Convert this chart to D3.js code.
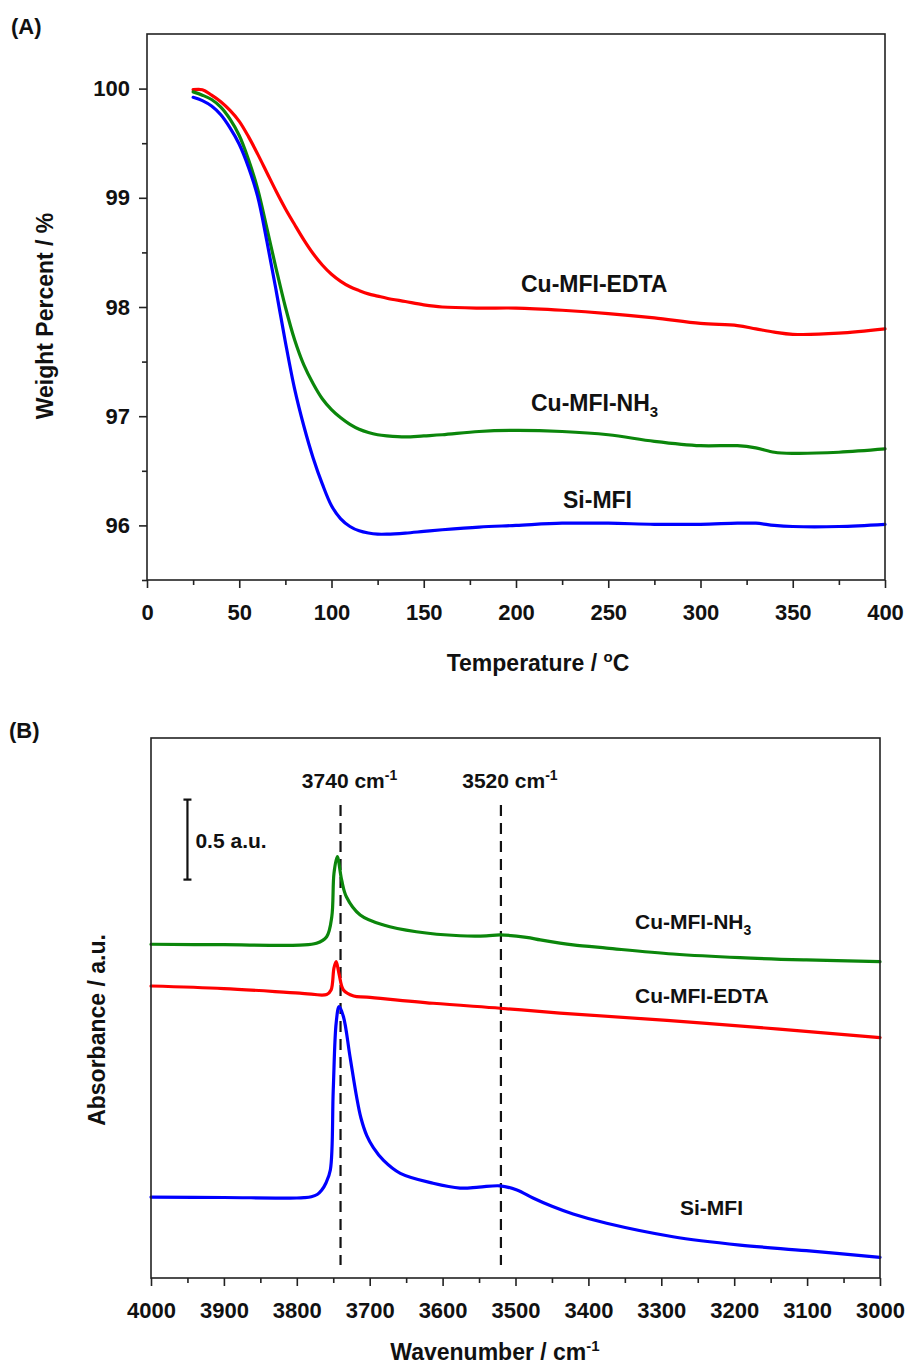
<!DOCTYPE html>
<html>
<head>
<meta charset="utf-8">
<script src="https://cdn.jsdelivr.net/npm/d3@7"></script>
<style>
  html, body { margin: 0; padding: 0; background: #fff; }
  svg { display: block; }
  text { font-family: "Liberation Sans", Arial, Helvetica, sans-serif; font-weight: bold; fill: #111; }
</style>
</head>
<body>
<svg id="chart" width="911" height="1367"></svg>
<script>
// ---------- Panel A: TGA weight loss ----------
const tempA = [25,30,35,40,45,50,55,60,65,70,75,80,85,90,95,100,105,110,115,120,125,130,140,150,160,180,200,225,250,275,300,320,330,340,350,375,400];
const wtEDTA = [99.99,99.99,99.94,99.88,99.80,99.70,99.56,99.40,99.23,99.06,98.90,98.755,98.615,98.49,98.385,98.30,98.235,98.185,98.15,98.12,98.10,98.08,98.05,98.02,98.00,97.99,97.99,97.97,97.94,97.90,97.85,97.83,97.80,97.77,97.75,97.76,97.80];
const wtNH3 = [99.97,99.94,99.90,99.83,99.72,99.57,99.35,99.08,98.72,98.35,98.00,97.70,97.47,97.30,97.16,97.06,96.985,96.925,96.88,96.85,96.83,96.82,96.81,96.82,96.83,96.86,96.87,96.86,96.83,96.77,96.73,96.73,96.71,96.67,96.66,96.67,96.70];
const wtSi = [99.92,99.89,99.84,99.76,99.64,99.49,99.28,99.01,98.60,98.15,97.68,97.25,96.91,96.62,96.38,96.18,96.06,95.99,95.95,95.93,95.92,95.92,95.93,95.945,95.96,95.985,96.00,96.02,96.02,96.01,96.01,96.02,96.02,96.00,95.99,95.99,96.01];
const tickTempMajor = [0,50,100,150,200,250,300,350,400];
const tickWtMajor = [96,97,98,99,100];

// ---------- Panel B: FTIR OH region ----------
const wnSi = [4000,3900,3800,3790,3780,3772,3766,3760,3754,3750,3746,3742,3736,3727,3718,3712,3704,3695,3681,3658,3613,3576,3550,3521,3498,3476,3450,3421,3375,3284,3192,3101,3000];
const absSi = [0.506,0.503,0.500,0.502,0.508,0.522,0.548,0.594,0.675,1.175,1.594,1.696,1.633,1.383,1.133,1.000,0.890,0.815,0.735,0.654,0.592,0.562,0.568,0.576,0.550,0.500,0.448,0.400,0.342,0.258,0.206,0.171,0.129];
const wnNH3 = [4000,3900,3796,3773,3759,3752,3749,3744.5,3738.5,3732,3713,3681,3636,3576,3540,3521,3485,3466,3439,3421,3375,3284,3192,3101,3000];
const absNH3 = [2.086,2.083,2.081,2.092,2.133,2.258,2.529,2.633,2.488,2.383,2.269,2.206,2.164,2.139,2.138,2.144,2.129,2.113,2.093,2.082,2.062,2.025,2.002,1.988,1.977];
const wnEDTA = [4000,3900,3796,3759,3753,3749,3746,3742,3736,3722,3704,3613,3521,3439,3238,3000];
const absEDTA = [1.825,1.809,1.781,1.772,1.800,1.938,1.977,1.900,1.800,1.763,1.756,1.717,1.686,1.656,1.592,1.502];
const tickWnMajor = [4000,3900,3800,3700,3600,3500,3400,3300,3200,3100,3000];
const markerWn = [3740, 3520];
const scaleBarAu = 0.5;

const svg = d3.select("#chart");
const RED = "#ff0000", GREEN = "#0b860b", BLUE = "#0000ff";
const smooth = d3.curveCatmullRom.alpha(0.5);

function frame(g, x0, y0, x1, y1) {
  g.append("rect").attr("x", x0).attr("y", y0).attr("width", x1 - x0).attr("height", y1 - y0)
    .attr("fill", "none").attr("stroke", "#222").attr("stroke-width", 1.6);
}
function styleAxis(sel, fontSize) {
  sel.select(".domain").remove();
  sel.selectAll(".tick line").attr("stroke", "#222").attr("stroke-width", 1.6);
  sel.selectAll(".tick text").attr("font-size", fontSize).attr("fill", "#111")
    .attr("font-family", "'Liberation Sans', Arial, sans-serif").attr("font-weight", "bold");
}

// ===== Panel A =====
const xA = d3.scaleLinear().domain([0, 400]).range([147, 885]);
const yA = d3.scaleLinear().domain([95.5, 100.5]).range([580, 34]);
const gA = svg.append("g");

const lineA = vals => d3.line().x((d, i) => xA(tempA[i])).y(d => yA(d)).curve(smooth)(vals);
[[wtEDTA, RED], [wtNH3, GREEN], [wtSi, BLUE]].forEach(([v, c]) => {
  gA.append("path").attr("d", lineA(v)).attr("fill", "none").attr("stroke", c)
    .attr("stroke-width", 3.2).attr("stroke-linejoin", "round").attr("stroke-linecap", "round");
});

// minor ticks
gA.append("g").attr("transform", "translate(0,580)")
  .call(d3.axisBottom(xA).tickValues(d3.range(25, 400, 50)).tickSize(5).tickFormat(""))
  .call(s => styleAxis(s, 22));
gA.append("g").attr("transform", "translate(147,0)")
  .call(d3.axisLeft(yA).tickValues([95.5, 96.5, 97.5, 98.5, 99.5]).tickSize(5).tickFormat(""))
  .call(s => styleAxis(s, 22));
// major ticks
gA.append("g").attr("transform", "translate(0,580)")
  .call(d3.axisBottom(xA).tickValues(tickTempMajor).tickSize(8).tickPadding(16).tickFormat(d3.format("d")))
  .call(s => styleAxis(s, 22));
gA.append("g").attr("transform", "translate(147,0)")
  .call(d3.axisLeft(yA).tickValues(tickWtMajor).tickSize(8).tickPadding(9).tickFormat(d3.format("d")))
  .call(s => styleAxis(s, 22));
frame(gA, 147, 34, 885, 580);

gA.append("text").attr("x", 11).attr("y", 34).attr("font-size", 22).text("(A)");
gA.append("text").attr("transform", "translate(53,316) rotate(-90)").attr("text-anchor", "middle")
  .attr("font-size", 23).text("Weight Percent / %");
const tA = gA.append("text").attr("x", 538).attr("y", 671).attr("text-anchor", "middle").attr("font-size", 23);
tA.append("tspan").text("Temperature / ");
tA.append("tspan").attr("font-size", 15).attr("dy", -9).text("o");
tA.append("tspan").attr("dy", 9).text("C");

gA.append("text").attr("x", 521).attr("y", 292).attr("font-size", 23).text("Cu-MFI-EDTA");
const nA = gA.append("text").attr("x", 531).attr("y", 411).attr("font-size", 23);
nA.append("tspan").text("Cu-MFI-NH");
nA.append("tspan").attr("font-size", 15).attr("dy", 6).text("3");
gA.append("text").attr("x", 563).attr("y", 508).attr("font-size", 23).text("Si-MFI");

// ===== Panel B =====
const xB = d3.scaleLinear().domain([4000, 3000]).range([151, 880]);
const yB = d3.scaleLinear().domain([0, 3.375]).range([1278, 738]);
const gB = svg.append("g");

// dashed band markers
markerWn.forEach(w => {
  gB.append("line").attr("x1", xB(w)).attr("x2", xB(w)).attr("y1", yB(2.956)).attr("y2", yB(0.081))
    .attr("stroke", "#111").attr("stroke-width", 2.2).attr("stroke-dasharray", "11,7");
  const t = gB.append("text").attr("x", xB(w) + 9).attr("y", 788).attr("text-anchor", "middle").attr("font-size", 21);
  t.append("tspan").text(w + " cm");
  t.append("tspan").attr("font-size", 14).attr("dy", -8).text("-1");
});

const lineB = (wn, ab) => d3.line().x((d, i) => xB(wn[i])).y(d => yB(d)).curve(smooth)(ab);
[[wnNH3, absNH3, GREEN], [wnEDTA, absEDTA, RED], [wnSi, absSi, BLUE]].forEach(([w, a, c]) => {
  gB.append("path").attr("d", lineB(w, a)).attr("fill", "none").attr("stroke", c)
    .attr("stroke-width", 3.2).attr("stroke-linejoin", "round").attr("stroke-linecap", "round");
});

gB.append("g").attr("transform", "translate(0,1278)")
  .call(d3.axisBottom(xB).tickValues(d3.range(3950, 3000, -100)).tickSize(5).tickFormat(""))
  .call(s => styleAxis(s, 22));
gB.append("g").attr("transform", "translate(0,1278)")
  .call(d3.axisBottom(xB).tickValues(tickWnMajor).tickSize(8).tickPadding(16).tickFormat(d3.format("d")))
  .call(s => styleAxis(s, 22));
frame(gB, 151, 738, 880, 1278);

// 0.5 a.u. scale bar
const sbX = xB(3950), sbY0 = yB(2.49), sbY1 = yB(2.49 + scaleBarAu);
gB.append("line").attr("x1", sbX).attr("x2", sbX).attr("y1", sbY0).attr("y2", sbY1).attr("stroke", "#111").attr("stroke-width", 2.2);
[sbY0, sbY1].forEach(y => gB.append("line").attr("x1", sbX - 4).attr("x2", sbX + 4).attr("y1", y).attr("y2", y)
  .attr("stroke", "#111").attr("stroke-width", 2.2));
gB.append("text").attr("x", sbX + 8).attr("y", 848).attr("font-size", 21).text("0.5 a.u.");

gB.append("text").attr("x", 9).attr("y", 738).attr("font-size", 22).text("(B)");
gB.append("text").attr("transform", "translate(105,1030) rotate(-90)").attr("text-anchor", "middle")
  .attr("font-size", 23).text("Absorbance / a.u.");
const tB = gB.append("text").attr("x", 495).attr("y", 1360).attr("text-anchor", "middle").attr("font-size", 23);
tB.append("tspan").text("Wavenumber / cm");
tB.append("tspan").attr("font-size", 15).attr("dy", -9).text("-1");

const nB = gB.append("text").attr("x", 635).attr("y", 929).attr("font-size", 21);
nB.append("tspan").text("Cu-MFI-NH");
nB.append("tspan").attr("font-size", 14).attr("dy", 6).text("3");
gB.append("text").attr("x", 635).attr("y", 1003).attr("font-size", 21).text("Cu-MFI-EDTA");
gB.append("text").attr("x", 680).attr("y", 1215).attr("font-size", 21).text("Si-MFI");
</script>
</body>
</html>
